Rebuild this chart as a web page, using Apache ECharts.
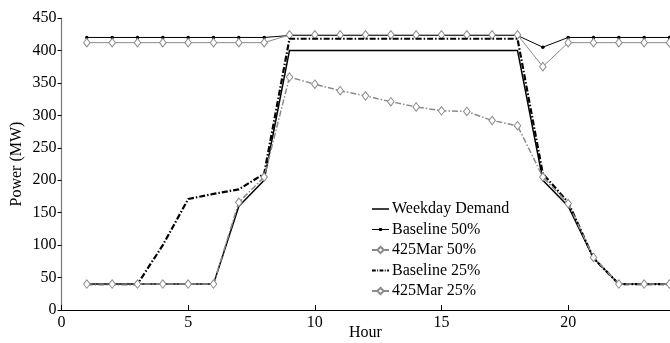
<!DOCTYPE html>
<html>
<head>
<meta charset="utf-8">
<script src="https://cdn.jsdelivr.net/npm/echarts@6/dist/echarts.min.js"></script>
<style>
  html, body { margin: 0; padding: 0; background: #fff; }
  #chart { width: 670px; height: 343px; }
</style>
</head>
<body>
<div id="chart"></div>
<script>
// hourly power profiles
const hours = [1, 2, 3, 4, 5, 6, 7, 8, 9, 10, 11, 12, 13, 14, 15, 16, 17, 18, 19, 20, 21, 22, 23, 24]
const weekdayDemand = [40, 40, 40, 40, 40, 40, 160, 200, 400, 400, 400, 400, 400, 400, 400, 400, 400, 400, 200, 160, 80, 40, 40, 40]
const baseline50 = [420, 420, 420, 420, 420, 420, 420, 420, 423, 423, 423, 423, 423, 423, 423, 423, 423, 423, 405, 420, 420, 420, 420, 420]
const mar50 = [412, 412, 412, 412, 412, 412, 412, 412, 424, 424, 424, 424, 424, 424, 424, 424, 424, 424, 375, 412, 412, 412, 412, 412]
const baseline25 = [40, 40, 40, 100, 171, 179, 186, 210, 418, 418, 418, 418, 418, 418, 418, 418, 418, 418, 210, 166, 80, 40, 40, 40]
const mar25 = [40, 40, 40, 40, 40, 40, 166, 205, 359, 348, 338, 330, 321, 313, 307, 306, 292, 284, 205, 164, 81, 40, 40, 40]

const pairs = vals => hours.map((h, i) => [h, vals[i]])
const serif = '"Liberation Serif", "DejaVu Serif", serif'
const dashDot = [6, 2, 1.5, 2]
// legend icons drawn as small paths
const solidIcon = 'path://M0,0H18V1.6H0Z'
const dotLineIcon = 'path://M0,3.5H18V4.5H0Z M7.5,2.5H10.5V5.5H7.5Z'
const dashDotIcon = 'path://M0,0H4V2H0Z M5.5,0H6.5V2H5.5Z M8,0H12V2H8Z M13.5,0H14.5V2H13.5Z M16,0H18V2H16Z'

const chart = echarts.init(document.getElementById('chart'), null, { renderer: 'canvas' })

chart.setOption({
  animation: false,
  backgroundColor: '#fff',
  textStyle: { fontFamily: serif, color: '#000' },
  grid: { left: 61.5, right: 0.5, top: 18, bottom: 33, containLabel: false, outerBoundsMode: 'none' },
  legend: {
    orient: 'vertical',
    left: 366,
    top: 196,
    itemWidth: 17,
    itemHeight: 8,
    itemGap: 4.5,
    textStyle: { fontFamily: serif, fontSize: 16, color: '#000', padding: [0, 0, 0, -2] },
    data: [
      { name: 'Weekday Demand', icon: solidIcon, itemStyle: { color: '#000' } },
      { name: 'Baseline 50%', icon: dotLineIcon, itemStyle: { color: '#000' } },
      '425Mar 50%',
      { name: 'Baseline 25%', icon: dashDotIcon, itemStyle: { color: '#000' } },
      '425Mar 25%'
    ]
  },
  xAxis: {
    type: 'value',
    min: 0, max: 24, interval: 5,
    name: 'Hour',
    nameLocation: 'middle',
    nameGap: 15,
    nameMoveOverlap: false,
    nameTextStyle: { fontFamily: serif, fontSize: 16, color: '#000' },
    axisLine: { onZero: false, lineStyle: { color: '#000', width: 1.2 } },
    axisTick: { inside: true, length: 5, lineStyle: { color: '#000' } },
    axisLabel: { fontFamily: serif, fontSize: 16, color: '#000', margin: 5, showMaxLabel: false },
    splitLine: { show: false }
  },
  yAxis: {
    type: 'value',
    min: 0, max: 450, interval: 50,
    name: 'Power (MW)',
    nameLocation: 'middle',
    nameGap: 37,
    nameRotate: 90,
    nameMoveOverlap: false,
    nameTextStyle: { fontFamily: serif, fontSize: 16, color: '#000' },
    axisLine: { show: true, lineStyle: { color: '#777', width: 1.2 } },
    axisTick: { show: true, length: 4, lineStyle: { color: '#000' } },
    axisLabel: { fontFamily: serif, fontSize: 16, color: '#000', margin: 5 },
    splitLine: { show: false }
  },
  series: [
    {
      name: 'Weekday Demand', type: 'line', data: pairs(weekdayDemand),
      showSymbol: false,
      lineStyle: { color: '#000', width: 1.5 },
      itemStyle: { color: '#000' }, z: 2
    },
    {
      name: 'Baseline 50%', type: 'line', data: pairs(baseline50),
      symbol: 'circle', symbolSize: 3.5,
      lineStyle: { color: '#000', width: 1 },
      itemStyle: { color: '#000' }, z: 3
    },
    {
      name: '425Mar 50%', type: 'line', data: pairs(mar50),
      symbol: 'diamond', symbolSize: [6.5, 8.5],
      lineStyle: { color: '#8a8a8a', width: 1 },
      itemStyle: { color: '#fff', borderColor: '#8a8a8a', borderWidth: 1 }, z: 4
    },
    {
      name: 'Baseline 25%', type: 'line', data: pairs(baseline25),
      showSymbol: false,
      lineStyle: { color: '#000', width: 2.2, type: dashDot },
      itemStyle: { color: '#000' }, z: 5
    },
    {
      name: '425Mar 25%', type: 'line', data: pairs(mar25),
      symbol: 'diamond', symbolSize: [6.5, 8.5],
      lineStyle: { color: '#8a8a8a', width: 1.5, type: dashDot },
      itemStyle: { color: '#fff', borderColor: '#8a8a8a', borderWidth: 1 }, z: 6
    }
  ]
})
</script>
</body>
</html>
